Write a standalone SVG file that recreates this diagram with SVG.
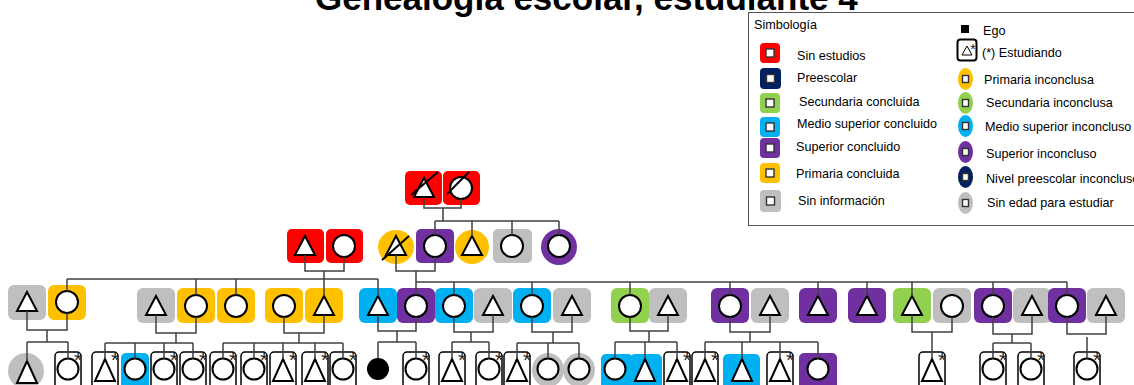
<svg xmlns="http://www.w3.org/2000/svg" xmlns:xlink="http://www.w3.org/1999/xlink" width="1134" height="385" viewBox="0 0 1134 385">
<style>
.red{fill:#FF0000}.navy{fill:#002060}.grn{fill:#92D050}.blu{fill:#00B0F0}.pur{fill:#7030A0}.yel{fill:#FFC000}.gry{fill:#BFBFBF}
.sh{fill:#fff;stroke:#000;stroke-width:2}
.blk{fill:#000}
.st{fill:none;stroke:#000;stroke-width:1.5}
.sl{stroke:#000;stroke-width:2}
.ln{fill:none;stroke:#404040;stroke-width:1.5}
.ast{font-family:"Liberation Sans",Arial,sans-serif;font-size:21px;fill:#222;text-anchor:middle}
.lt{font-family:"Liberation Sans",Arial,sans-serif;font-size:12.6px;fill:#000}
.li{fill:#fff;stroke:#333;stroke-width:1.4}
.title{font-family:"Liberation Sans",Arial,sans-serif;font-weight:bold;font-size:35px;fill:#000}
</style>
<defs>
<path id="tri" d="M0,-10L10,9L-10,9Z"/>
<path id="tri4" d="M0,-11L10,11L-10,11Z"/>
</defs>
<rect width="1134" height="385" fill="#fff"/>
<text class="title" x="315" y="9.5">Genealogía escolar, estudiante 4</text>

<g id="legend">
<rect x="748.5" y="12.5" width="420" height="213" fill="#fff" stroke="#555" stroke-width="1"/>
<text class="lt" x="754" y="29">Simbología</text>
<rect class="red" x="760" y="43" width="20" height="20" rx="4"/><rect class="li" x="766" y="49" width="8" height="8"/>
<text class="lt" x="797" y="60">Sin estudios</text>
<rect class="navy" x="760" y="68" width="21" height="21" rx="4"/><rect class="li" x="766.5" y="74.5" width="8" height="8"/>
<text class="lt" x="797" y="82">Preescolar</text>
<rect class="grn" x="760" y="93" width="20" height="20" rx="4"/><rect class="li" x="766" y="99" width="8" height="8"/>
<text class="lt" x="799" y="106">Secundaria concluida</text>
<rect class="blu" x="760" y="117" width="20" height="20" rx="4"/><rect class="li" x="766" y="123" width="8" height="8"/>
<text class="lt" x="797" y="128">Medio superior concluido</text>
<rect class="pur" x="760" y="138" width="20" height="20" rx="4"/><rect class="li" x="766" y="144" width="8" height="8"/>
<text class="lt" x="796" y="151">Superior concluido</text>
<rect class="yel" x="760" y="163" width="20" height="20" rx="4"/><rect class="li" x="766" y="169" width="8" height="8"/>
<text class="lt" x="796" y="178">Primaria concluida</text>
<rect class="gry" x="760" y="190" width="21" height="22" rx="4"/><rect class="li" x="766.5" y="197" width="8" height="8"/>
<text class="lt" x="798" y="205">Sin información</text>

<rect class="blk" x="961" y="25" width="8" height="8"/>
<text class="lt" x="983" y="35">Ego</text>
<rect x="957.5" y="39.5" width="19" height="21" rx="3" fill="#fff" stroke="#000" stroke-width="2"/>
<path d="M967,46L972,55L962,55Z" fill="#fff" stroke="#000" stroke-width="1"/>
<text class="ast" x="973" y="54" style="font-size:14px">*</text>
<text class="lt" x="982" y="57">(*) Estudiando</text>
<ellipse class="yel" cx="965.5" cy="79" rx="7.5" ry="11"/><rect class="li" x="962.5" y="75.5" width="6" height="7"/>
<text class="lt" x="984" y="84">Primaria inconclusa</text>
<ellipse class="grn" cx="965.5" cy="103" rx="7.5" ry="11"/><rect class="li" x="962.5" y="99.5" width="6" height="7"/>
<text class="lt" x="986" y="107">Secundaria inconclusa</text>
<ellipse class="blu" cx="965.5" cy="126" rx="7.5" ry="11"/><rect class="li" x="962.5" y="122.5" width="6" height="7"/>
<text class="lt" x="985" y="131">Medio superior inconcluso</text>
<ellipse class="pur" cx="965.5" cy="152" rx="7.5" ry="11"/><rect class="li" x="962.5" y="148.5" width="6" height="7"/>
<text class="lt" x="986" y="158">Superior inconcluso</text>
<ellipse class="navy" cx="965.5" cy="177" rx="7.5" ry="11"/><rect class="li" x="962.5" y="173.5" width="6" height="7"/>
<text class="lt" x="986" y="183">Nivel preescolar inconcluso</text>
<ellipse class="gry" cx="965.5" cy="203" rx="7.5" ry="11"/><rect class="li" x="962.5" y="199.5" width="6" height="7"/>
<text class="lt" x="987" y="207">Sin edad para estudiar</text>
</g>

<!-- Generation 1 -->
<g id="g1-1"><rect class="red" x="405" y="171" width="37" height="34" rx="5"/><use href="#tri" x="424" y="188" class="sh"/><line class="sl" x1="411" y1="195" x2="438" y2="172"/></g>
<g id="g1-2"><rect class="red" x="443" y="171" width="37" height="34" rx="5"/><circle class="sh" cx="461" cy="188" r="11"/><line class="sl" x1="447" y1="194" x2="469" y2="172"/></g>

<!-- Generation 2 -->
<g id="g2-1"><rect class="red" x="287" y="229" width="37" height="34" rx="5"/><use href="#tri" x="305" y="246" class="sh"/></g>
<g id="g2-2"><rect class="red" x="326" y="229" width="37" height="34" rx="5"/><circle class="sh" cx="344" cy="246" r="11"/></g>
<g id="g2-3"><ellipse class="yel" cx="396" cy="247" rx="18" ry="17"/><use href="#tri" x="396" y="246" class="sh"/><line class="sl" x1="382" y1="260" x2="409" y2="236"/></g>
<g id="g2-4"><rect class="pur" x="416" y="229" width="38" height="34" rx="5"/><circle class="sh" cx="435" cy="246" r="11"/></g>
<g id="g2-5"><ellipse class="yel" cx="472" cy="247" rx="17" ry="17"/><use href="#tri" x="472" y="246" class="sh"/></g>
<g id="g2-6"><rect class="gry" x="493" y="229" width="39" height="34" rx="5"/><circle class="sh" cx="512" cy="246" r="11"/></g>
<g id="g2-7"><circle class="pur" cx="559" cy="247" r="18"/><circle class="sh" cx="559" cy="246" r="11"/></g>

<!-- Generation 3 -->
<g id="g3-1"><rect class="gry" x="8" y="285" width="38" height="35" rx="6"/><use href="#tri" x="27" y="302" class="sh"/></g>
<g id="g3-2"><rect class="yel" x="48" y="285" width="38" height="35" rx="6"/><circle class="sh" cx="67" cy="302" r="11"/></g>
<g id="g3-3"><rect class="gry" x="137" y="288" width="38" height="35" rx="6"/><use href="#tri" x="156" y="306" class="sh"/></g>
<g id="g3-4"><rect class="yel" x="177" y="288" width="38" height="35" rx="6"/><circle class="sh" cx="196" cy="306" r="11"/></g>
<g id="g3-5"><rect class="yel" x="217" y="288" width="38" height="35" rx="6"/><circle class="sh" cx="236" cy="306" r="11"/></g>
<g id="g3-6"><rect class="yel" x="265" y="288" width="38" height="35" rx="6"/><circle class="sh" cx="284" cy="306" r="11"/></g>
<g id="g3-7"><rect class="yel" x="305" y="288" width="38" height="35" rx="6"/><use href="#tri" x="324" y="306" class="sh"/></g>
<g id="g3-8"><rect class="blu" x="359" y="288" width="38" height="35" rx="6"/><use href="#tri" x="378" y="306" class="sh"/></g>
<g id="g3-9"><rect class="pur" x="397" y="288" width="38" height="35" rx="6"/><circle class="sh" cx="416" cy="306" r="11"/></g>
<g id="g3-10"><rect class="blu" x="435" y="288" width="38" height="35" rx="6"/><circle class="sh" cx="454" cy="306" r="11"/></g>
<g id="g3-11"><rect class="gry" x="474" y="288" width="38" height="35" rx="6"/><use href="#tri" x="493" y="306" class="sh"/></g>
<g id="g3-12"><rect class="blu" x="513" y="288" width="38" height="35" rx="6"/><circle class="sh" cx="532" cy="306" r="11"/></g>
<g id="g3-13"><rect class="gry" x="553" y="288" width="38" height="35" rx="6"/><use href="#tri" x="572" y="306" class="sh"/></g>
<g id="g3-14"><rect class="grn" x="611" y="288" width="38" height="35" rx="6"/><circle class="sh" cx="630" cy="306" r="11"/></g>
<g id="g3-15"><rect class="gry" x="649" y="288" width="38" height="35" rx="6"/><use href="#tri" x="668" y="306" class="sh"/></g>
<g id="g3-16"><rect class="pur" x="711" y="288" width="38" height="35" rx="6"/><circle class="sh" cx="730" cy="306" r="11"/></g>
<g id="g3-17"><rect class="gry" x="751" y="288" width="38" height="35" rx="6"/><use href="#tri" x="770" y="306" class="sh"/></g>
<g id="g3-18"><rect class="pur" x="799" y="288" width="38" height="35" rx="6"/><use href="#tri" x="818" y="306" class="sh"/></g>
<g id="g3-19"><rect class="pur" x="848" y="288" width="38" height="35" rx="6"/><use href="#tri" x="867" y="306" class="sh"/></g>
<g id="g3-20"><rect class="grn" x="893" y="288" width="38" height="35" rx="6"/><use href="#tri" x="912" y="306" class="sh"/></g>
<g id="g3-21"><rect class="gry" x="933" y="288" width="38" height="35" rx="6"/><circle class="sh" cx="952" cy="306" r="11"/></g>
<g id="g3-22"><rect class="pur" x="974" y="288" width="38" height="35" rx="6"/><circle class="sh" cx="993" cy="306" r="11"/></g>
<g id="g3-23"><rect class="gry" x="1013" y="288" width="38" height="35" rx="6"/><use href="#tri" x="1032" y="306" class="sh"/></g>
<g id="g3-24"><rect class="pur" x="1048" y="288" width="38" height="35" rx="6"/><circle class="sh" cx="1067" cy="306" r="11"/></g>
<g id="g3-25"><rect class="gry" x="1087" y="288" width="38" height="35" rx="6"/><use href="#tri" x="1106" y="306" class="sh"/></g>

<!-- Generation 4 -->
<g id="g4-1"><ellipse class="gry" cx="26" cy="371" rx="18" ry="18"/><use href="#tri4" x="27" y="372" class="sh"/></g>
<g id="g4-2"><rect class="st" x="55" y="352" width="26" height="40" rx="4"/><circle class="sh" cx="68" cy="369" r="10.5"/><text class="ast" x="78" y="367">*</text></g>
<g id="g4-3"><rect class="st" x="92" y="352" width="26" height="40" rx="4"/><use href="#tri4" x="105" y="370" class="sh"/><text class="ast" x="115" y="367">*</text></g>
<g id="g4-4"><rect class="blu" x="121" y="353" width="28" height="40" rx="5"/><circle class="sh" cx="135" cy="369" r="10.5"/></g>
<g id="g4-5"><rect class="st" x="151" y="352" width="26" height="40" rx="4"/><circle class="sh" cx="164" cy="369" r="10.5"/><text class="ast" x="174" y="367">*</text></g>
<g id="g4-6"><rect class="st" x="180" y="352" width="26" height="40" rx="4"/><circle class="sh" cx="193" cy="369" r="10.5"/><text class="ast" x="203" y="367">*</text></g>
<g id="g4-7"><rect class="st" x="210" y="352" width="26" height="40" rx="4"/><circle class="sh" cx="223" cy="369" r="10.5"/><text class="ast" x="233" y="367">*</text></g>
<g id="g4-8"><rect class="st" x="241" y="352" width="26" height="40" rx="4"/><circle class="sh" cx="254" cy="369" r="10.5"/><text class="ast" x="264" y="367">*</text></g>
<g id="g4-9"><rect class="st" x="270" y="352" width="26" height="40" rx="4"/><use href="#tri4" x="283" y="370" class="sh"/><text class="ast" x="293" y="367">*</text></g>
<g id="g4-10"><rect class="st" x="302" y="352" width="26" height="40" rx="4"/><use href="#tri4" x="315" y="370" class="sh"/><text class="ast" x="325" y="367">*</text></g>
<g id="g4-11"><rect class="st" x="330" y="352" width="26" height="40" rx="4"/><circle class="sh" cx="343" cy="369" r="10.5"/><text class="ast" x="353" y="367">*</text></g>
<g id="g4-12"><circle class="blk" cx="378" cy="369" r="11"/></g>
<g id="g4-13"><rect class="st" x="403" y="352" width="26" height="40" rx="4"/><circle class="sh" cx="416" cy="369" r="10.5"/><text class="ast" x="426" y="367">*</text></g>
<g id="g4-14"><rect class="st" x="439" y="352" width="26" height="40" rx="4"/><use href="#tri4" x="452" y="370" class="sh"/><text class="ast" x="462" y="367">*</text></g>
<g id="g4-15"><rect class="st" x="476" y="352" width="26" height="40" rx="4"/><circle class="sh" cx="489" cy="369" r="10.5"/><text class="ast" x="499" y="367">*</text></g>
<g id="g4-16"><rect class="st" x="504" y="352" width="26" height="40" rx="4"/><use href="#tri4" x="517" y="370" class="sh"/><text class="ast" x="527" y="367">*</text></g>
<g id="g4-17"><ellipse class="gry" cx="548" cy="370" rx="16" ry="17"/><circle class="sh" cx="548" cy="369" r="10.5"/></g>
<g id="g4-18"><ellipse class="gry" cx="579" cy="370" rx="16" ry="17"/><circle class="sh" cx="579" cy="369" r="10.5"/></g>
<g id="g4-19"><rect class="blu" x="601" y="354" width="32" height="40" rx="5"/><circle class="sh" cx="615" cy="369" r="10.5"/></g>
<g id="g4-20"><rect class="blu" x="630" y="354" width="32" height="40" rx="5"/><use href="#tri4" x="645" y="370" class="sh"/></g>
<g id="g4-21"><rect class="st" x="664" y="352" width="26" height="40" rx="4"/><use href="#tri4" x="677" y="370" class="sh"/><text class="ast" x="687" y="367">*</text></g>
<g id="g4-22"><rect class="st" x="692" y="352" width="26" height="40" rx="4"/><use href="#tri4" x="705" y="370" class="sh"/><text class="ast" x="715" y="367">*</text></g>
<g id="g4-23"><rect class="blu" x="723" y="354" width="37" height="40" rx="5"/><use href="#tri4" x="742" y="370" class="sh"/></g>
<g id="g4-24"><rect class="st" x="767" y="352" width="26" height="40" rx="4"/><use href="#tri4" x="780" y="370" class="sh"/><text class="ast" x="790" y="367">*</text></g>
<g id="g4-25"><rect class="pur" x="799" y="353" width="38" height="40" rx="5"/><circle class="sh" cx="818" cy="369" r="10.5"/></g>
<g id="g4-26"><rect class="st" x="919" y="352" width="26" height="40" rx="4"/><use href="#tri4" x="932" y="370" class="sh"/><text class="ast" x="942" y="367">*</text></g>
<g id="g4-27"><rect class="st" x="980" y="352" width="26" height="40" rx="4"/><circle class="sh" cx="993" cy="369" r="10.5"/><text class="ast" x="1003" y="367">*</text></g>
<g id="g4-28"><rect class="st" x="1018" y="352" width="26" height="40" rx="4"/><circle class="sh" cx="1031" cy="369" r="10.5"/><text class="ast" x="1041" y="367">*</text></g>
<g id="g4-29"><rect class="st" x="1074" y="352" width="26" height="40" rx="4"/><circle class="sh" cx="1087" cy="369" r="10.5"/><text class="ast" x="1097" y="367">*</text></g>

<g id="connectors" class="ln">
<path d="M424,197V208H461V199M443,208V221M435,221H559M435,221V235M472,221V236M512,221V235M559,221V235"/>
<path d="M305,255V271H344V257M324,271V296M396,255V271H435V257M416,271V295M416,282H1067"/>
<path d="M67,279H378M67,279V291M196,279V295M236,279V295M378,279V296"/>
<path d="M454,282V295M532,282V295M630,282V295M730,282V295M818,282V296M867,282V296M912,282V296M993,282V295M1067,282V295"/>
<path d="M27,311V330H67V313M47,330V342M27,342H68M27,342V361M68,342V358.5"/>
<path d="M156,315V333H196V317M176,333V343M105,343H193M105,343V359M135,343V358.5M164,343V358.5M193,343V358.5"/>
<path d="M284,317V333H324V315M299,333V343M223,343H343M223,343V358.5M254,343V358.5M283,343V359M315,343V359M343,343V358.5"/>
<path d="M378,315V331H416V317M397,331V342M378,342H416M378,342V358M416,342V358.5"/>
<path d="M454,317V332H493V315M471,332V342M452,342H489M452,342V359M489,342V358.5"/>
<path d="M532,317V332H572V315M553,332V343M517,343H579M517,343V359M548,343V358.5M579,343V358.5"/>
<path d="M630,317V331H668V315M649,331V342M615,342H677M615,342V358.5M645,342V359M677,342V359"/>
<path d="M730,317V332H770V315M750,332V342M705,342H818M705,342V359M742,342V359M780,342V359M818,342V358.5"/>
<path d="M912,315V332H952V317M932,332V359"/>
<path d="M993,317V334H1032V315M1012,334V343M993,343H1031M993,343V358.5M1031,343V358.5"/>
<path d="M1067,317V334H1106V315M1087,337V358.5"/>
</g>
</svg>
